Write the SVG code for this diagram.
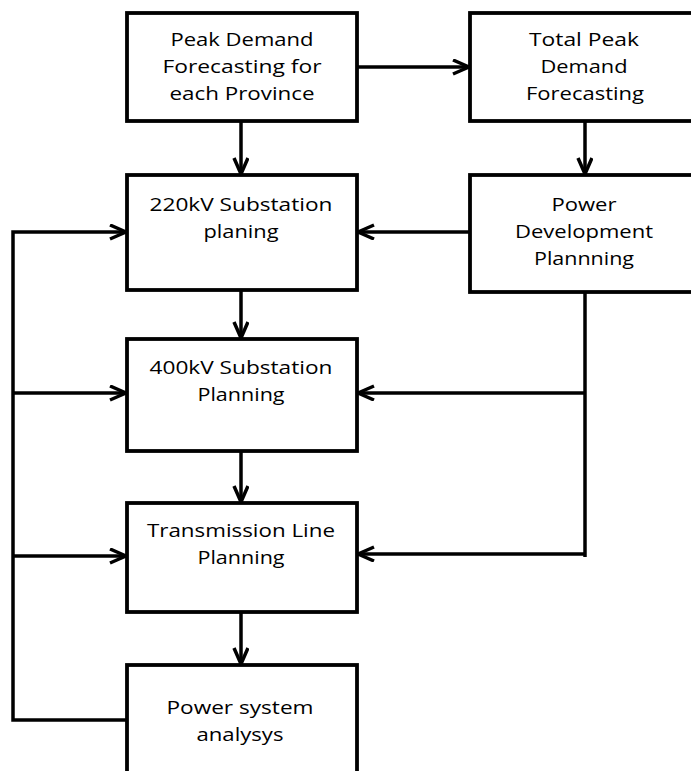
<svg xmlns="http://www.w3.org/2000/svg" width="691" height="771" viewBox="0 0 691 771">
<style>
.box{fill:#fff;stroke:#000;stroke-width:3.8}
.t{font-family:"Open Sans","Liberation Sans",sans-serif;font-size:19px;fill:#000;text-anchor:middle}
.c{fill:none;stroke:#000;stroke-width:3.5}
</style>
<defs>
<marker id="ah" markerWidth="20" markerHeight="20" refX="17" refY="8" orient="auto" markerUnits="userSpaceOnUse">
<path d="M1,1 L17,8 L1,15" fill="none" stroke="#000" stroke-width="3.5"/>
</marker>
</defs>
<rect width="691" height="771" fill="#fff"/>
<g id="connectors">
<path class="c" d="M357,67 H469" marker-end="url(#ah)"/>
<path class="c" d="M241,121 V174" marker-end="url(#ah)"/>
<path class="c" d="M585,121 V174" marker-end="url(#ah)"/>
<path class="c" d="M470,232 H358" marker-end="url(#ah)"/>
<path class="c" d="M241,290 V338" marker-end="url(#ah)"/>
<path class="c" d="M241,451 V502" marker-end="url(#ah)"/>
<path class="c" d="M241,612 V664" marker-end="url(#ah)"/>
<path class="c" d="M127,720 H13 V232 H126" marker-end="url(#ah)"/>
<path class="c" d="M13,393 H126" marker-end="url(#ah)"/>
<path class="c" d="M13,556 H126" marker-end="url(#ah)"/>
<path class="c" d="M585,292 V557"/>
<path class="c" d="M585,393 H358" marker-end="url(#ah)"/>
<path class="c" d="M585,554 H358" marker-end="url(#ah)"/>
</g>
<g id="peak-province">
<rect class="box" x="127" y="13" width="230" height="108"/>
<text class="t" x="242" y="46" textLength="143" lengthAdjust="spacingAndGlyphs">Peak Demand</text>
<text class="t" x="242" y="73" textLength="159" lengthAdjust="spacingAndGlyphs">Forecasting for</text>
<text class="t" x="242" y="100" textLength="145" lengthAdjust="spacingAndGlyphs">each Province</text>
</g>
<g id="total-peak">
<rect class="box" x="470" y="13" width="240" height="108"/>
<text class="t" x="584" y="46" textLength="110" lengthAdjust="spacingAndGlyphs">Total Peak</text>
<text class="t" x="584" y="73" textLength="87" lengthAdjust="spacingAndGlyphs">Demand</text>
<text class="t" x="585" y="100" textLength="118" lengthAdjust="spacingAndGlyphs">Forecasting</text>
</g>
<g id="sub220">
<rect class="box" x="127" y="175" width="230" height="115"/>
<text class="t" x="241" y="211" textLength="183" lengthAdjust="spacingAndGlyphs">220kV Substation</text>
<text class="t" x="241" y="238" textLength="75" lengthAdjust="spacingAndGlyphs">planing</text>
</g>
<g id="power-dev">
<rect class="box" x="470" y="175" width="240" height="117"/>
<text class="t" x="584" y="211" textLength="65" lengthAdjust="spacingAndGlyphs">Power</text>
<text class="t" x="584" y="238" textLength="138" lengthAdjust="spacingAndGlyphs">Development</text>
<text class="t" x="584" y="265" textLength="100" lengthAdjust="spacingAndGlyphs">Plannning</text>
</g>
<g id="sub400">
<rect class="box" x="127" y="339" width="230" height="112"/>
<text class="t" x="241" y="374" textLength="183" lengthAdjust="spacingAndGlyphs">400kV Substation</text>
<text class="t" x="241" y="401" textLength="87" lengthAdjust="spacingAndGlyphs">Planning</text>
</g>
<g id="tline">
<rect class="box" x="127" y="503" width="230" height="109"/>
<text class="t" x="241" y="537" textLength="188" lengthAdjust="spacingAndGlyphs">Transmission Line</text>
<text class="t" x="241" y="564" textLength="87" lengthAdjust="spacingAndGlyphs">Planning</text>
</g>
<g id="psa">
<rect class="box" x="127" y="665" width="230" height="140"/>
<text class="t" x="240" y="714" textLength="147" lengthAdjust="spacingAndGlyphs">Power system</text>
<text class="t" x="240" y="741" textLength="87" lengthAdjust="spacingAndGlyphs">analysys</text>
</g>
</svg>
